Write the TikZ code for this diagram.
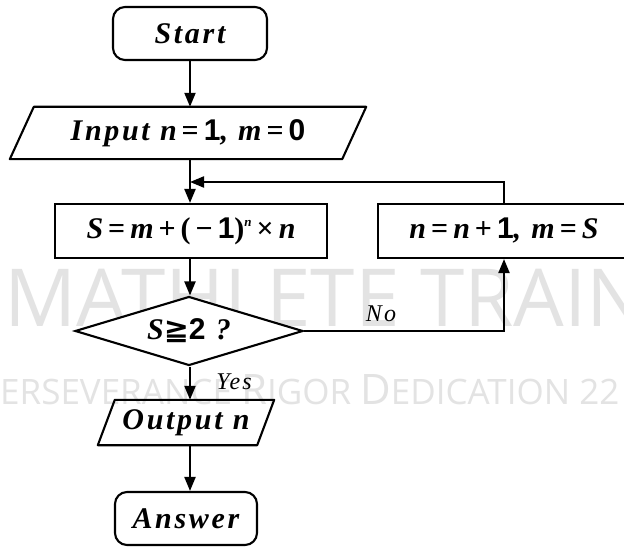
\documentclass[tikz,border=0pt]{standalone}
\usepackage{fontspec}
\setmainfont{Liberation Serif}[LetterSpace=9]
\newfontfamily\symfont{DejaVu Sans}
\newfontfamily\numfont{Liberation Sans}
\newfontfamily\wmfont{Open Sans}
\usetikzlibrary{arrows.meta,shapes.geometric,calc}
\newcommand{\vi}[1]{\textit{#1}}
\newcommand{\nm}[1]{{\upshape\numfont #1}}
\newcommand{\eqs}{\,{\upshape =}\,}
\newcommand{\ops}[1]{\,{\upshape #1}\,}
\newcommand{\sups}[1]{\raisebox{12pt}{\fontsize{13}{13}\selectfont\textit{#1}}}
\begin{document}
\begin{tikzpicture}[x=1pt,y=-1pt,
  every node/.style={font=\fontsize{30}{32}\selectfont\bfseries\itshape},
  line/.style={line width=2.1pt,line join=round},
  arr/.style={line width=2.1pt,-{Triangle[length=14pt,width=11pt]}},
  term/.style={draw,line width=2.1pt,rounded corners=12pt,minimum width=154pt,minimum height=53pt,inner sep=0pt},
  proc/.style={draw,line width=2.1pt,minimum height=54pt,inner sep=0pt},
  io/.style={minimum height=52pt,inner sep=0pt},
  dec/.style={draw,line width=2.1pt,diamond,aspect=3.3,inner sep=0pt,minimum width=228pt,minimum height=69pt},
  lab/.style={font=\fontsize{24}{26}\selectfont\itshape},
  wm/.style={text=black!11,inner sep=0pt,anchor=west}
]
\useasboundingbox (0,0) rectangle (624,556);
\clip (0,0) rectangle (624,556);
\fill[white] (0,0) rectangle (624,556);
% watermark
\node[wm,font=\fontsize{80}{84}\selectfont\wmfont\mdseries\upshape] (wm1) at (4,298) {MATHLETE TRAIN};
\node[wm,font=\fontsize{35}{37}\selectfont\wmfont\mdseries\upshape] (wm2) at (0,390) {ERSEVERANCE {\fontsize{42}{42}\selectfont R}IGOR {\fontsize{42}{42}\selectfont D}EDICATION 22};
% nodes
\node[term] (start) at (190,33.5) {Start};
\node[io,minimum width=332pt] (input) at (188,133) {Input \vi{n}\eqs\nm{1}, \vi{m}\eqs\nm{0}};
\draw[line] ($(input.south west)+(-12,0)$) -- ($(input.north west)+(12,0)$) -- ($(input.north east)+(12,0)$) -- ($(input.south east)+(-12,0)$) -- cycle;
\node[proc,fill=white,minimum width=272pt] (sbox) at (191,231) {\vi{S}\eqs\vi{m}\ops{+}{\upshape(}\,{\upshape −}\,\nm{1}{\upshape)}\sups{n}\ops{×}\vi{n}};
\node[proc,fill=white,minimum width=252pt] (nbox) at (504,231) {\vi{n}\eqs\vi{n}\ops{+}\nm{1}, \vi{m}\eqs\vi{S}};
\node[dec,fill=white] (dec) at (189,331) {\vi{S}{\symfont ≧}\nm{2} ?};
\node[io,minimum width=159pt,minimum height=45pt] (output) at (186,422.5) {Output \vi{n}};
\draw[line] ($(output.south west)+(-8.5,0)$) -- ($(output.north west)+(8.5,0)$) -- ($(output.north east)+(8.5,0)$) -- ($(output.south east)+(-8.5,0)$) -- cycle;
\node[term,minimum width=142pt] (ans) at (186,518.5) {Answer};
\coordinate (join) at (190,182);
\node[lab] (no) at (381,314) {No};
\node[lab] (yes) at (234,382) {Yes};
% connectors
\draw[arr] (start.south) -- (start.south |- input.north);
\draw[arr] (start.south |- input.south) -- (start.south |- sbox.north);
\draw[arr] (nbox.north) -- (nbox.north |- join) -- (join);
\draw[arr] (start.south |- sbox.south) -- (start.south |- dec.north);
\draw[arr] (dec.east) -- (dec.east -| nbox.south) -- (nbox.south);
\draw[arr] (start.south |- dec.south) -- (start.south |- output.north);
\draw[arr] (start.south |- output.south) -- (start.south |- ans.north);
\end{tikzpicture}
\end{document}
